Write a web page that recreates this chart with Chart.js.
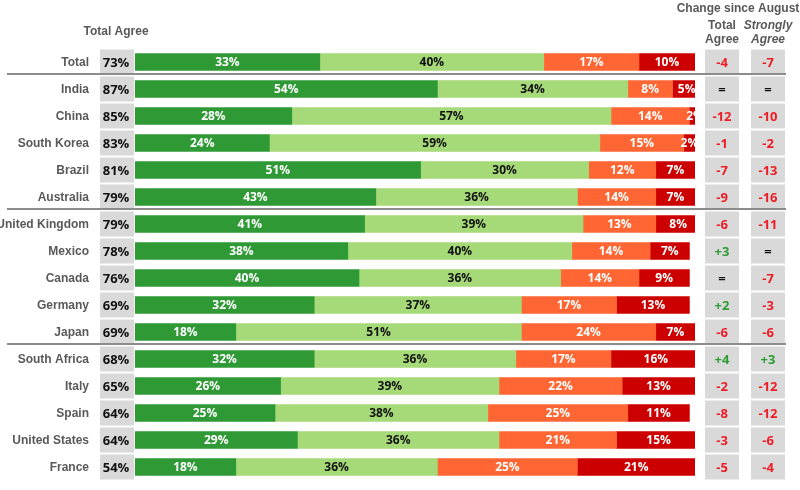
<!DOCTYPE html>
<html>
<head>
<meta charset="utf-8">
<script src="https://cdn.jsdelivr.net/npm/chart.js@4"></script>
<style>
html,body{margin:0;padding:0;background:#fff;}
canvas{display:block;}
</style>
</head>
<body>
<canvas id="c" width="800" height="490"></canvas>
<script>
const countries = ['Total','India','China','South Korea','Brazil','Australia','United Kingdom','Mexico','Canada','Germany','Japan','South Africa','Italy','Spain','United States','France'];
const strongAgree      = [33,54,28,24,51,43,41,38,40,32,18,32,26,25,29,18];
const somewhatAgree    = [40,34,57,59,30,36,39,40,36,37,51,36,39,38,36,36];
const somewhatDisagree = [17,8,14,15,12,14,13,14,14,17,24,17,22,25,21,25];
const strongDisagree   = [10,5,2,2,7,7,8,7,9,13,7,16,13,11,15,21];
const totalAgree       = [73,87,85,83,81,79,79,78,76,69,69,68,65,64,64,54];
const changeTotal      = ['-4','=','-12','-1','-7','-9','-6','+3','=','+2','-6','+4','-2','-8','-3','-5'];
const changeStrong     = ['-7','=','-10','-2','-13','-16','-11','=','-7','-3','-6','+3','-12','-12','-6','-4'];
const separatorsAfter  = [0,5,10];

const COLORS = ['#2f9a35','#a6d977','#ff6633','#cc0000'];
const LABEL_COLORS = ['#ffffff','#111111','#ffffff','#ffffff'];
const NUM_FONT = 'bold 12px "Open Sans", Lato';
const VAL_FONT = 'bold 13px "Open Sans", Lato';
const TXT_FONT = 'bold 12px "Liberation Sans", Arial';

function changeColor(s){
  if (s.startsWith('+')) return '#2e9b33';
  if (s.startsWith('-')) return '#ee1c25';
  return '#111111';
}

const overlay = {
  id:'overlay',
  beforeDatasetsDraw(chart){
    const ctx = chart.ctx, y = chart.scales.y;
    ctx.save();
    ctx.fillStyle = '#d9d9d9';
    countries.forEach((c,i)=>{
      const cy = y.getPixelForValue(i);
      const top = cy - 13.5 + 1, h = 25;
      ctx.fillRect(100, top, 34, h);
      ctx.fillRect(705, top, 34, h);
      ctx.fillRect(751, top, 34, h);
    });
    ctx.restore();
  },
  afterDatasetsDraw(chart){
    const ctx = chart.ctx, y = chart.scales.y;
    ctx.save();
    ctx.textAlign = 'center';
    ctx.textBaseline = 'middle';
    ctx.font = NUM_FONT;
    chart.data.datasets.forEach((ds,di)=>{
      const meta = chart.getDatasetMeta(di);
      meta.data.forEach((el,i)=>{
        const cx = (el.x + el.base)/2;
        ctx.fillStyle = LABEL_COLORS[di];
        ctx.fillText(ds.data[i] + '%', cx, el.y + 1);
      });
    });
    countries.forEach((c,i)=>{
      const cy = y.getPixelForValue(i);
      ctx.font = TXT_FONT;
      ctx.fillStyle = '#595959';
      ctx.textAlign = 'right';
      ctx.fillText(c, 89, cy + 1);
      ctx.font = VAL_FONT;
      ctx.fillStyle = '#111111';
      ctx.textAlign = 'center';
      ctx.fillText(totalAgree[i] + '%', 116, cy + 1);
      ctx.fillStyle = changeColor(changeTotal[i]);
      ctx.fillText(changeTotal[i], 722, cy + 1);
      ctx.fillStyle = changeColor(changeStrong[i]);
      ctx.fillText(changeStrong[i], 768, cy + 1);
    });
    ctx.strokeStyle = '#8c8c8c';
    ctx.lineWidth = 2;
    separatorsAfter.forEach(i=>{
      const ly = Math.round((y.getPixelForValue(i) + y.getPixelForValue(i+1))/2 - 2);
      ctx.beginPath();
      ctx.moveTo(7, ly);
      ctx.lineTo(786, ly);
      ctx.stroke();
    });
    ctx.fillStyle = '#595959';
    ctx.textAlign = 'center';
    ctx.font = TXT_FONT;
    ctx.fillText('Total Agree', 116, 32);
    ctx.fillText('Change since August', 738, 9);
    ctx.fillText('Total', 722, 26);
    ctx.fillText('Agree', 722, 40);
    ctx.font = 'italic bold 12px "Liberation Sans", Arial';
    ctx.fillText('Strongly', 768, 26);
    ctx.fillText('Agree', 768, 40);
    ctx.restore();
  }
};

function build(){
  new Chart(document.getElementById('c'), {
    type:'bar',
    data:{
      labels: countries,
      datasets:[
        {label:'Strongly agree', data:strongAgree, backgroundColor:COLORS[0]},
        {label:'Somewhat agree', data:somewhatAgree, backgroundColor:COLORS[1]},
        {label:'Somewhat disagree', data:somewhatDisagree, backgroundColor:COLORS[2]},
        {label:'Strongly disagree', data:strongDisagree, backgroundColor:COLORS[3]}
      ]
    },
    options:{
      indexAxis:'y',
      responsive:false,
      animation:false,
      devicePixelRatio:1,
      layout:{padding:{left:135,right:105,top:48.5,bottom:9.5}},
      datasets:{bar:{barThickness:17, borderWidth:0, clip:0}},
      scales:{
        x:{stacked:true, min:0, max:100, display:false},
        y:{stacked:true, display:false}
      },
      plugins:{legend:{display:false}, tooltip:{enabled:false}}
    },
    plugins:[overlay]
  });
}

Promise.all([
  document.fonts.load(NUM_FONT, '0123456789%'),
  document.fonts.load(VAL_FONT, '0123456789%+-='),
  document.fonts.load(TXT_FONT, 'Total Agree'),
  document.fonts.load('italic bold 12px "Liberation Sans"', 'Strongly')
]).then(build, build);
</script>
</body>
</html>
